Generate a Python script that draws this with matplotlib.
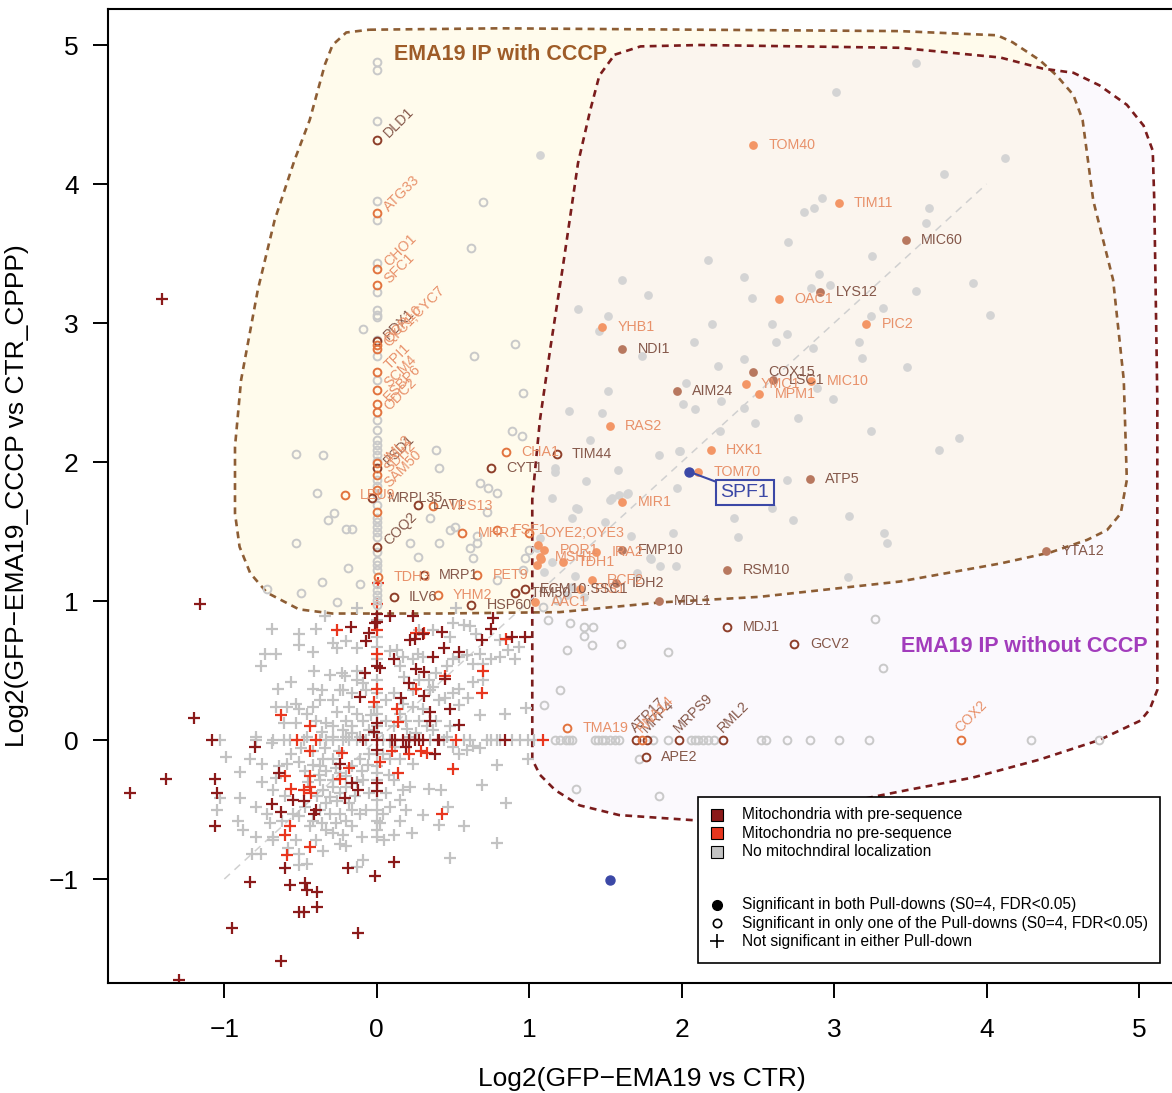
import matplotlib
matplotlib.use("Agg")
import matplotlib.pyplot as plt
from matplotlib.patches import Polygon, Rectangle

plt.rcParams["font.family"] = ["Liberation Sans", "DejaVu Sans"]

# ---------------- data ----------------
# not significant in either pull-down (plus markers)
plus_none = [
    (-1.03, 0), (-0.79, 0), (-0.68, 0), (-0.61, 0), (-0.57, 0), (-0.48, 0), (-0.37, 0), (-0.33, 0),
    (-0.29, 0), (-0.22, 0), (-0.18, 0), (-0.13, 0), (-0.07, 0), (0.04, 0), (0.09, 0), (0.35, 0),
    (0.44, 0), (0.57, 0), (0.61, 0), (0.72, 0), (0.75, 0), (0.79, 0), (0.81, 0), (0.89, 0),
    (0.94, 0), (0.99, 0), (1.03, 0),
    (0, 0.86), (0, 0.74), (0, 0.67), (0, 0.58), (0, 0.43), (0, 0.34), (0, 0.24), (0, 0.19),
    (0, 0.10), (0, 0.05), (0, -0.10), (0, -0.19), (0, -0.24), (0, -0.29), (0, -0.43), (0, -0.50),
    (0, -0.58), (0, -0.65), (0, -0.70),
    (-0.69, 0.80), (-0.51, 0.76), (-0.40, 0.80), (-0.73, 0.62), (-0.66, 0.62), (-0.76, 0.53),
    (-0.51, 0.68), (-0.42, 0.63), (-0.26, 0.66), (-0.20, 0.71), (-0.13, 0.66), (-0.29, 0.70),
    (-0.41, 0.50), (-0.31, 0.47), (-0.23, 0.48), (-0.21, 0.46), (-0.65, 0.37), (-0.42, 0.37),
    (-0.36, 0.36), (-0.13, 0.43), (-0.09, 0.41), (0.09, 0.64), (0.13, 0.65), (0.17, 0.60),
    (0.15, 0.53), (0.24, 0.58), (0.27, 0.62), (0.34, 0.43), (0.37, 0.38), (0.39, 0.48),
    (0.46, 0.53), (0.50, 0.58), (0.54, 0.60), (0.59, 0.61), (0.63, 0.55), (0.68, 0.62),
    (0.70, 0.55), (0.75, 0.58), (0.81, 0.60), (0.86, 0.65), (0.91, 0.58), (0.93, 0.67),
    (0.50, 0.84), (0.57, 0.83), (0.61, 0.82), (0.65, 0.76), (0.81, 0.72), (0.48, 0.74),
    (0.37, 0.79), (0.28, 0.79), (0.63, 0.42), (0.70, 0.43), (0.54, 0.37), (0.50, 0.34),
    (0.41, 0.29), (0.54, 0.25), (0.68, 0.18), (0.84, 0.19), (0.98, 0.23), (0.79, -0.18),
    (0.99, -0.14), (0.69, -0.32), (0.85, -0.45), (0.79, -0.74), (0.48, -0.85), (0.57, -0.62),
    (0.41, -0.61), (0.47, -0.48), (0.34, -0.35), (0.42, -0.36), (0.30, -0.54), (0.23, -0.67),
    (0.11, -0.68), (0.05, -0.72), (-0.10, -0.70), (-0.09, -0.86), (-0.13, -0.91), (-0.20, -0.76),
    (-0.35, -0.80), (-0.46, -0.89), (-0.51, -0.90), (-0.76, -0.82), (-0.82, -0.82), (-0.68, -0.70),
    (-0.79, -0.70), (-0.91, -0.58), (-0.88, -0.65), (-1.05, -0.50), (-0.90, -0.42), (-1.03, -0.42),
    (-0.75, -0.30), (-0.72, -0.53), (-0.68, -0.36), (-0.64, -0.19), (-0.59, -0.17), (-0.51, -0.16),
    (-0.42, -0.18), (-0.37, -0.19), (-0.33, -0.22), (-0.29, -0.14), (-0.24, -0.24), (-0.20, -0.26),
    (-0.29, -0.29), (-0.37, -0.29), (-0.35, -0.36), (-0.31, -0.41), (-0.29, -0.34), (-0.24, -0.38),
    (-0.31, -0.53), (-0.24, -0.53), (-0.20, -0.58), (-0.16, -0.50), (-0.37, -0.50), (-0.42, -0.58),
    (-0.51, -0.55), (-0.55, -0.53), (-0.53, -0.72), (-0.51, -0.82), (-0.33, -0.65), (-0.29, -0.67),
    (-0.16, -0.62), (-0.11, -0.53), (-0.07, -0.50), (-0.05, -0.38), (-0.09, -0.29), (-0.16, -0.19),
    (-0.11, -0.14), (-0.05, -0.10), (0.04, -0.10), (0.09, -0.14), (0.15, -0.14), (0.24, -0.17),
    (0.11, -0.29), (0.17, -0.36), (0.22, -0.34), (0.06, -0.38), (0.09, -0.48), (0.15, -0.43),
    (0.19, -0.50), (0.04, -0.53), (0.15, -0.58), (-0.05, 0.07), (-0.09, 0.14), (-0.13, 0.19),
    (-0.18, 0.24), (-0.20, 0.14), (-0.16, 0.10), (-0.22, 0.07), (-0.29, 0.10), (-0.33, 0.12),
    (-0.40, 0.14), (-0.46, 0.19), (-0.51, 0.22), (-0.53, 0.26), (-0.59, 0.24), (-0.66, 0.24),
    (-0.69, -0.02), (-0.61, 0.12), (-0.53, 0.12), (-0.46, 0.02), (-0.29, 0.02), (-0.20, 0.02),
    (-0.16, 0.05), (-0.11, 0.02), (0.06, 0.14), (0.11, 0.10), (0.15, 0.19), (0.19, 0.14),
    (0.24, 0.24), (0.28, 0.14), (0.33, 0.10), (0.26, 0.05), (0.22, 0.02), (0.06, 0.29),
    (0.11, 0.34), (0.17, 0.26), (0.24, 0.36), (0.28, 0.43), (0.35, 0.36), (0.39, 0.14),
    (0.48, 0.10), (0.37, 0.07), (0.46, 0.02), (0.50, -0.05), (0.54, -0.10), (0.59, -0.07),
    (0.63, -0.04), (0.68, -0.06), (-0.42, 0.24), (-0.37, 0.29), (-0.29, 0.29), (-0.24, 0.36),
    (-0.16, 0.34), (-0.07, 0.36), (-0.02, 0.24), (-0.13, 0.50), (-0.22, 0.36), (-0.99, -0.12),
    (-0.90, -0.23), (-0.83, -0.14), (-0.79, 0.02), (-0.75, -0.17), (-0.79, -0.48), (-0.68, -0.72),
    (-0.13, 0.95), (-0.34, 0.89), (0.52, 0.95),
    (-0.47, -0.22), (-0.45, -0.30), (-0.38, -0.25), (-0.35, -0.14), (-0.27, -0.20), (-0.26, -0.44),
    (-0.33, -0.45), (-0.39, -0.40), (-0.47, -0.48), (-0.44, -0.62), (-0.36, -0.60), (-0.27, -0.60),
    (-0.22, -0.68), (-0.18, -0.45), (-0.14, -0.40), (-0.10, -0.22), (-0.06, -0.18), (-0.13, -0.30),
    (-0.20, -0.34), (-0.25, -0.08), (-0.34, -0.06), (-0.42, -0.08), (-0.50, -0.06), (-0.56, -0.10),
    (-0.60, -0.40), (-0.62, -0.58), (-0.66, -0.27), (-0.70, -0.60), (-0.58, -0.78), (-0.40, -0.72),
    (-0.24, -0.75), (0.02, -0.60), (0.08, -0.25), (0.12, -0.05), (0.20, 0.08), (0.30, 0.22),
    (0.18, 0.45), (-0.04, 0.18), (-0.26, 0.20), (-0.36, 0.06), (0.45, 0.30), (0.60, 0.30),
    (0.30, 0.60), (-0.56, 0.42),
]
plus_pre = [
    (-1.41, 3.17), (-1.16, 0.98), (-1.20, 0.16), (-1.08, 0.00), (-0.80, -0.05), (-1.38, -0.28),
    (-1.62, -0.38), (-1.06, -0.28), (-1.05, -0.38), (-1.06, -0.62), (-0.95, -1.35), (-0.83, -1.02),
    (-0.63, -1.59), (-1.30, -1.73), (-0.12, -1.39), (-0.01, -0.98), (0.11, -0.88), (-0.19, -0.92),
    (-0.60, -0.92), (-0.57, -1.04), (-0.47, -1.03), (-0.46, -1.08), (-0.39, -1.09), (-0.39, -1.20),
    (-0.51, -1.24), (-0.48, -1.24), (-0.63, -0.52), (-0.69, -0.46), (-0.55, -0.43), (-0.48, -0.44),
    (-0.40, -0.50), (-0.41, -0.53), (-0.64, -0.24), (-0.21, -0.42), (-0.16, -0.31), (-0.12, -0.36),
    (0.00, -0.31), (0.00, -0.37), (-0.24, -0.17), (-0.02, 0.06), (0.00, 0.12), (0.00, 0.00),
    (0.00, -0.07), (-0.11, 0.31), (-0.08, 0.48), (0.00, 0.53), (0.02, 0.52), (-0.07, 0.71),
    (-0.05, 0.77), (0.00, 0.85), (-0.01, 0.84), (-0.17, 0.81), (0.11, 0.58), (0.16, 0.30),
    (0.21, 0.41), (0.22, 0.72), (0.25, 0.73), (0.30, 0.76), (0.31, 0.49), (0.26, 0.51),
    (0.31, 0.32), (0.35, 0.20), (0.35, 0.14), (0.48, 0.22), (0.54, 0.11), (0.43, 0.78),
    (0.44, 0.66), (0.54, 0.63), (0.37, 0.60), (0.45, 0.44), (0.10, 0.00), (0.12, 0.00),
    (0.17, 0.00), (0.21, 0.00), (0.25, 0.00), (0.28, 0.00), (0.30, 0.00), (0.40, 0.00),
    (0.41, 0.00), (0.38, -0.10), (0.84, 0.00), (0.69, 0.72), (0.75, 0.80), (0.89, 0.74),
    (0.97, 0.74), (0.09, 0.89), (0.24, 0.89), (0.76, 0.88), (0.00, 0.91), (-0.09, 0.00),
    (0.19, -0.05),
]
plus_nopre = [
    (-0.26, 0.79), (0.00, 0.79), (0.00, 0.62), (0.00, 0.37), (-0.02, 0.27), (0.13, 0.22),
    (0.14, 0.13), (0.10, -0.08), (0.21, -0.10), (0.29, -0.08), (0.33, -0.09), (0.52, 0.00),
    (0.45, 0.46), (0.26, 0.37), (0.70, 0.50), (0.69, 0.34), (0.85, 0.73), (0.50, -0.21),
    (0.02, -0.16), (0.14, -0.24), (-0.23, -0.09), (-0.24, -0.28), (-0.18, -0.20), (-0.44, 0.10),
    (-0.44, -0.08), (-0.63, 0.18), (-0.52, 0.00), (-0.40, 0.00), (-0.44, -0.26), (-0.60, -0.26),
    (-0.56, -0.35), (-0.48, -0.36), (-0.44, -0.34), (-0.43, -0.38), (-0.57, -0.62), (-0.60, -0.68),
    (-0.59, -0.83), (-0.44, -0.77), (0.43, -0.53), (0.00, 0.98), (1.09, 0.00), (0.31, 0.77),
    (0.26, 0.77), (0.01, 1.13),
]

# significant in only one pull-down (open circles), no mitochondrial localization
open_none = [
    (0, 4.88), (0, 4.82), (0, 4.45), (0, 3.88), (0, 3.74), (0, 3.43), (0, 3.22), (0, 3.09),
    (0, 3.06), (0, 3.04), (0, 2.88), (0, 2.76), (0, 2.59), (0, 2.30), (0, 2.23), (0, 2.16),
    (0, 2.12), (0, 2.09), (0, 2.05), (0, 2.01), (0, 1.87), (0, 1.83), (0, 1.76), (0, 1.69),
    (0, 1.60), (0, 1.57), (0, 1.53), (0, 1.50), (0, 1.46), (0, 1.35), (0, 1.29), (0, 1.26),
    (0, 1.22), (0, 1.12), (0, 1.08), (0, 1.04), (0, 1.01), (0, 0.97),
    (0.70, 3.87), (0.62, 3.54), (-0.09, 2.96), (0.91, 2.85), (0.64, 2.76), (0.96, 2.50),
    (0.89, 2.22), (0.95, 2.19), (0.39, 2.09), (0.41, 1.96), (-0.28, 1.63), (0.68, 1.85),
    (0.73, 1.81), (0.79, 1.78), (0.72, 1.64), (0.35, 1.60), (-0.20, 1.52), (-0.16, 1.52),
    (0.48, 1.51), (0.51, 1.53), (0.66, 1.47), (0.66, 1.42), (0.61, 1.38), (0.22, 1.42),
    (0.41, 1.42), (0.27, 1.32), (-0.19, 1.24), (0.63, 1.31), (0.79, 1.15), (-0.11, 1.12),
    (-0.26, 0.99), (0.96, 1.22), (0.97, 1.31), (1.00, 1.37), (-0.53, 2.06), (-0.35, 2.05),
    (-0.39, 1.78), (-0.32, 1.58), (-0.53, 1.42), (-0.36, 1.14), (-0.72, 1.09), (-0.50, 1.06),
    (1.17, 0), (1.20, 0), (1.24, 0), (1.26, 0), (1.28, 0), (1.43, 0), (1.45, 0), (1.48, 0),
    (1.50, 0), (1.53, 0), (1.56, 0), (1.59, 0), (1.81, 0), (1.91, 0), (2.06, 0), (2.09, 0),
    (2.11, 0), (2.14, 0), (2.17, 0), (2.21, 0), (2.52, 0), (2.55, 0), (2.69, 0), (2.84, 0),
    (3.03, 0), (3.23, 0), (4.29, 0), (4.74, 0),
    (1.72, -0.14), (1.31, -0.35), (1.85, -0.40), (1.27, 0.84), (1.36, 0.81), (1.42, 0.81),
    (1.36, 0.75), (1.41, 0.68), (1.25, 0.65), (1.60, 0.69), (1.91, 0.63), (3.27, 0.87),
    (3.32, 0.52), (1.09, 0.96), (1.12, 0.86), (1.18, 1.01), (1.10, 0.25), (1.20, 0.36),
]

# significant in both pull-downs (filled dots), no mitochondrial localization
dot_none = [
    (3.72, 4.07), (2.92, 3.90), (2.87, 3.83), (2.80, 3.80), (3.62, 3.83), (3.60, 3.72), (2.70, 3.58),
    (3.25, 3.48), (2.17, 3.45), (2.41, 3.33), (1.61, 3.31), (2.90, 3.35), (2.85, 3.25), (2.97, 3.27),
    (3.54, 3.23), (1.78, 3.20), (2.46, 3.18), (1.32, 3.10), (1.52, 3.05), (3.32, 3.11), (3.24, 3.05),
    (2.20, 2.99), (2.59, 2.99), (1.46, 2.94), (2.69, 2.92), (2.62, 2.86), (2.08, 2.86), (3.16, 2.86),
    (2.86, 2.82), (1.74, 2.76), (3.18, 2.75), (2.41, 2.74), (2.24, 2.69), (3.48, 2.68), (2.03, 2.57),
    (2.89, 2.53), (2.99, 2.45), (1.52, 2.51), (2.26, 2.44), (2.01, 2.42), (2.09, 2.38), (2.41, 2.39),
    (1.26, 2.37), (1.48, 2.35), (2.76, 2.32), (3.54, 4.87), (4.12, 4.19), (3.91, 3.29), (4.02, 3.06),
    (3.82, 2.17), (3.69, 2.09), (3.01, 4.66), (1.07, 4.21), (2.25, 2.22), (2.48, 2.28), (3.24, 2.22),
    (1.99, 2.08), (1.85, 2.05), (1.58, 1.94), (1.37, 1.86), (1.97, 1.81), (1.65, 1.78), (1.53, 1.73),
    (2.69, 1.87), (2.34, 1.60), (2.73, 1.58), (3.10, 1.61), (3.33, 1.49), (3.35, 1.42), (2.37, 1.46),
    (1.94, 1.49), (1.67, 1.47), (1.31, 1.67), (1.28, 1.60), (1.50, 1.57), (1.79, 1.31), (1.86, 1.25),
    (1.96, 1.25), (2.59, 1.67), (3.09, 1.17), (1.30, 1.18), (1.28, 1.10), (1.71, 1.20), (1.40, 2.16),
    (1.98, 2.08), (1.17, 1.96), (1.17, 1.93), (1.15, 1.74), (1.32, 1.66), (1.54, 1.74), (1.59, 1.76),
    (1.64, 1.77), (1.80, 1.30), (1.07, 1.45), (1.10, 1.21), (1.25, 1.04), (1.36, 1.03), (1.05, 1.38),
    (1.15, 1.28),
]
dot_nopre_extra = [(1.06, 1.40), (1.08, 1.30), (1.05, 1.26)]
open_nopre_extra = [(0, 1.64)]

# labelled proteins: (name, x, y)
lab_both_pre = [
    ("MIC60", 3.47, 3.60), ("LYS12", 2.91, 3.22), ("NDI1", 1.61, 2.81), ("COX15", 2.47, 2.65),
    ("LSC1", 2.60, 2.59), ("AIM24", 1.97, 2.51), ("ATP5", 2.84, 1.88), ("FMP10", 1.61, 1.37),
    ("RSM10", 2.30, 1.22), ("IDH2", 1.57, 1.13), ("MDL1", 1.85, 1.00), ("YTA12", 4.39, 1.36),
]
lab_both_nopre = [
    ("TOM40", 2.47, 4.28), ("TIM11", 3.03, 3.86), ("OAC1", 2.64, 3.17), ("PIC2", 3.21, 2.99),
    ("YHB1", 1.48, 2.97), ("YMC1", 2.42, 2.56), ("MIC10", 2.85, 2.58), ("MPM1", 2.51, 2.49),
    ("RAS2", 1.53, 2.26), ("HXK1", 2.19, 2.09), ("TOM70", 2.11, 1.93), ("MIR1", 1.61, 1.71),
    ("TDH1", 1.22, 1.28), ("IRA2", 1.44, 1.35), ("POR1", 1.10, 1.37), ("MSH1", 1.07, 1.32),
    ("RCF2", 1.41, 1.15), ("PIS1", 1.33, 1.09), ("AAC1", 1.04, 0.99),
]
lab_one_pre = [
    ("DLD1", 0, 4.32), ("PDX1", 0, 2.87), ("PSD1", 0, 1.96), ("COQ2", 0, 1.39),
    ("MRPL35", -0.03, 1.74), ("LAT1", 0.27, 1.69), ("CYT1", 0.75, 1.96), ("TIM44", 1.18, 2.06),
    ("MRP1", 0.31, 1.19), ("ILV6", 0.11, 1.03), ("TIM50", 0.91, 1.06), ("HSP60", 0.62, 0.97),
    ("ECM10;SSC1", 0.97, 1.09), ("ATP17", 1.70, 0), ("MRP4", 1.77, 0), ("MRPS9", 1.98, 0),
    ("RML2", 2.27, 0), ("APE2", 1.765, -0.12), ("MDJ1", 2.30, 0.81), ("GCV2", 2.74, 0.69),
]
lab_one_nopre = [
    ("ATG33", 0, 3.79), ("CHO1", 0, 3.39), ("SFC1", 0, 3.27), ("QCR10", 0, 2.84),
    ("CYC1;CYC7", 0, 2.81), ("TPI1", 0, 2.65), ("SCM4", 0, 2.52), ("ESBP6", 0, 2.42),
    ("ODC2", 0, 2.36), ("IML2", 0, 1.99), ("SDH2", 0, 1.91), ("SAM50", 0, 1.80),
    ("LEU9", -0.21, 1.76), ("VPS13", 0.37, 1.68), ("MHR1", 0.56, 1.49), ("FSF1", 0.79, 1.51),
    ("OYE2;OYE3", 1.00, 1.49), ("CHA1", 0.85, 2.07), ("TDH3", 0.01, 1.17), ("PET9", 0.66, 1.19),
    ("YHM2", 0.40, 1.04), ("TMA19", 1.25, 0.09), ("RNA14", 1.74, 0), ("COX2", 3.83, 0),
]
spf1_x = [2.05, 1.53]
spf1_y = [1.93, -1.01]

diag = [-1.0, 4.0]

# hand-traced outlines of the two highlighted regions
cccp_region = [
    (-0.05, 5.11), (0.81, 5.12), (2.12, 5.11), (3.43, 5.10), (4.07, 5.07), (4.17, 5.02), (4.35, 4.89),
    (4.46, 4.78), (4.57, 4.64), (4.63, 4.46), (4.70, 3.88), (4.83, 3.31), (4.90, 2.59), (4.92, 1.87),
    (4.88, 1.63), (4.79, 1.51), (4.66, 1.44), (4.42, 1.35), (4.09, 1.27), (3.43, 1.14), (2.51, 1.03),
    (1.86, 0.99), (1.20, 0.92), (0.41, 0.91), (-0.29, 0.91), (-0.51, 0.94), (-0.72, 1.06),
    (-0.83, 1.20), (-0.90, 1.39), (-0.93, 1.63), (-0.93, 2.11), (-0.89, 2.59), (-0.78, 3.24),
    (-0.67, 3.74), (-0.54, 4.17), (-0.44, 4.46), (-0.34, 4.86), (-0.29, 5.00), (-0.20, 5.09),
]
nocccp_region = [
    (1.56, 4.93), (1.73, 4.99), (2.12, 5.00), (3.43, 4.98), (4.09, 4.91), (4.37, 4.83), (4.57, 4.80),
    (4.74, 4.71), (4.92, 4.57), (5.03, 4.42), (5.09, 4.24), (5.10, 3.88), (5.12, 2.45), (5.12, 1.01),
    (5.12, 0.36), (5.07, 0.22), (5.01, 0.14), (4.74, 0.00), (4.35, -0.14), (3.91, -0.27),
    (3.48, -0.36), (3.25, -0.41), (2.78, -0.52), (2.12, -0.58), (1.59, -0.54), (1.33, -0.47),
    (1.17, -0.36), (1.07, -0.25), (1.02, -0.14), (1.02, 1.01), (1.02, 1.73), (1.07, 2.30),
    (1.14, 2.83), (1.22, 3.40), (1.32, 4.15), (1.40, 4.53), (1.46, 4.78),
]

legend_loc = ["Mitochondria with pre-sequence", "Mitochondria no pre-sequence",
              "No mitochndiral localization"]
legend_sig = ["Significant in both Pull-downs (S0=4, FDR<0.05)",
              "Significant in only one of the Pull-downs (S0=4, FDR<0.05)",
              "Not significant in either Pull-down"]

# ---------------- colours ----------------
C_PRE, C_NOPRE, C_NONE = "#8b1a1a", "#e8361e", "#c2c2c2"
DOT_PRE, DOT_NOPRE, DOT_NONE = "#b8785f", "#f39666", "#d4d4d4"
OPEN_PRE, OPEN_NOPRE, OPEN_NONE = "#8e3f2a", "#e2743f", "#c9c9c9"
TXT_PRE, TXT_NOPRE = "#85584a", "#e8916a"
BLUE = "#3b48a6"


def xy(points):
    return [p[0] for p in points], [p[1] for p in points]


fig = plt.figure(figsize=(11.72, 10.93), dpi=100)
ax = fig.add_axes([108 / 1172, 110 / 1093, 1067 / 1172, 974 / 1093])
ax.set_xlim(-1.763, 5.236)
ax.set_ylim(-1.748, 5.259)

# regions
ax.add_patch(Polygon(cccp_region, closed=True, facecolor="#fff8d7", alpha=0.45,
                     edgecolor="none", zorder=0.5))
ax.add_patch(Polygon(nocccp_region, closed=True, facecolor="#efe4f7", alpha=0.22,
                     edgecolor="none", zorder=0.6))
ax.add_patch(Polygon(cccp_region, closed=True, fill=False, edgecolor="#8d5d34",
                     lw=1.9, ls=(0, (2.6, 2.0)), zorder=1))
ax.add_patch(Polygon(nocccp_region, closed=True, fill=False, edgecolor="#7a1c1c",
                     lw=1.9, ls=(0, (2.6, 2.0)), zorder=1))

ax.plot(diag, diag, ls=(0, (5, 4)), color="#d0d0d0", lw=1.1, zorder=1.2)

# not significant
kw_plus = dict(ls="none", marker="+", ms=9, mew=1.6)
ax.plot(*xy(plus_none), color=C_NONE, zorder=2, **kw_plus)
ax.plot(*xy(plus_nopre), color=C_NOPRE, zorder=2.2, **kw_plus)
ax.plot(*xy(plus_pre), color=C_PRE, zorder=2.3, **kw_plus)

# significant in one / both
kw_open = dict(ls="none", marker="o", ms=5.6, mew=1.4, mfc="none")
kw_dot = dict(ls="none", marker="o", ms=6.3, mew=0)
ax.plot(*xy(open_none), mec=OPEN_NONE, zorder=2.5, **kw_open)
ax.plot(*xy(dot_none), mfc=DOT_NONE, zorder=2.5, **kw_dot)
ax.plot(*xy(dot_nopre_extra), mfc=DOT_NOPRE, zorder=3, **kw_dot)
ax.plot(*xy(open_nopre_extra), mec=OPEN_NOPRE, zorder=3, **kw_open)

LAB_FS = 10.3
groups = [
    (lab_both_pre, dict(mfc=DOT_PRE, **kw_dot), TXT_PRE),
    (lab_both_nopre, dict(mfc=DOT_NOPRE, **kw_dot), TXT_NOPRE),
    (lab_one_pre, dict(mec=OPEN_PRE, **kw_open), TXT_PRE),
    (lab_one_nopre, dict(mec=OPEN_NOPRE, **kw_open), TXT_NOPRE),
]
for pts, mkw, tcol in groups:
    xs = [p[1] for p in pts]
    ys = [p[2] for p in pts]
    ax.plot(xs, ys, zorder=3, **mkw)
    for name, x, y in pts:
        if x == 0:
            ax.annotate(name, (x, y), xytext=(7, 3), textcoords="offset points",
                        rotation=45, rotation_mode="anchor", ha="left", va="center",
                        fontsize=LAB_FS, color=tcol, zorder=4)
        elif y == 0:
            ax.annotate(name, (x, y), xytext=(-2, 7), textcoords="offset points",
                        rotation=45, rotation_mode="anchor", ha="left", va="center",
                        fontsize=LAB_FS, color=tcol, zorder=4)
        else:
            ax.annotate(name, (x, y), xytext=(11, 0), textcoords="offset points",
                        ha="left", va="center", fontsize=LAB_FS, color=tcol, zorder=4)

ax.plot(spf1_x, spf1_y, ls="none", marker="o", ms=6.5, mfc=BLUE, mec=BLUE, zorder=4)
ax.annotate("SPF1", (spf1_x[0], spf1_y[0]), xytext=(40, -15), textcoords="offset points",
            ha="center", va="center", fontsize=14, color=BLUE, zorder=5,
            bbox=dict(boxstyle="square,pad=0.22", fc="none", ec=BLUE, lw=1.5),
            arrowprops=dict(arrowstyle="-", color=BLUE, lw=1.5, shrinkA=0, shrinkB=3))

ax.text(0.81, 4.93, "EMA19 IP with CCCP", ha="center", va="center", fontsize=15.5,
        fontweight="bold", color="#9e5c28", zorder=5)
ax.text(4.25, 0.67, "EMA19 IP without CCCP", ha="center", va="center", fontsize=15.5,
        fontweight="bold", color="#a23cbc", zorder=5)

# legend (drawn by hand, R style)
ax.add_patch(Rectangle((0.553, 0.0205), 0.433, 0.1705, transform=ax.transAxes,
                       facecolor="white", edgecolor="black", lw=1.2, zorder=6))
rows = [0.1725, 0.154, 0.1345, 0.0801, 0.0616, 0.0431]
for c, lab, ry in zip([C_PRE, C_NOPRE, C_NONE], legend_loc, rows[:3]):
    ax.plot([0.5708], [ry], transform=ax.transAxes, marker="s", ms=8, mfc=c, mec="black",
            mew=0.8, ls="none", zorder=7, clip_on=False)
    ax.text(0.5942, ry, lab, transform=ax.transAxes, ha="left", va="center",
            fontsize=11.2, zorder=7)
sym = [dict(marker="o", ms=7, mfc="black", mec="black"),
       dict(marker="o", ms=6, mfc="none", mec="black", mew=1.2),
       dict(marker="+", ms=10, color="black", mew=1.2)]
for s, lab, ry in zip(sym, legend_sig, rows[3:]):
    ax.plot([0.5708], [ry], transform=ax.transAxes, ls="none", zorder=7, clip_on=False, **s)
    ax.text(0.5942, ry, lab, transform=ax.transAxes, ha="left", va="center",
            fontsize=11.2, zorder=7)

# axes
for sp in ax.spines.values():
    sp.set_linewidth(1.5)
ax.set_xticks([-1, 0, 1, 2, 3, 4, 5])
ax.set_yticks([-1, 0, 1, 2, 3, 4, 5])
ax.tick_params(axis="both", length=11, width=1.4, labelsize=19)
ax.tick_params(axis="y", pad=10)
ax.tick_params(axis="x", pad=14)
ax.set_xlabel("Log2(GFP\u2212EMA19 vs CTR)", fontsize=19, labelpad=18)
ax.set_ylabel("Log2(GFP\u2212EMA19_CCCP vs CTR_CPPP)", fontsize=19, labelpad=14)

fig.savefig("out.png", dpi=100)
